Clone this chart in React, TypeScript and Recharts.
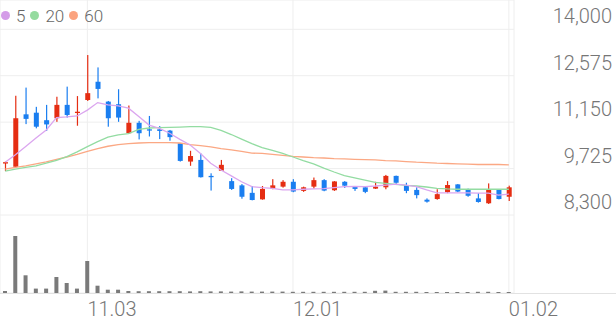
import { Bar, CartesianGrid, ComposedChart, Line, XAxis, YAxis } from 'recharts';

// trading days, 2022-10-24 .. 2023-01-02
const DATES = [
  '10.24', '10.25', '10.26', '10.27', '10.28', '10.31', '11.01', '11.02', '11.03', '11.04',
  '11.07', '11.08', '11.09', '11.10', '11.11', '11.14', '11.15', '11.16', '11.17', '11.18',
  '11.21', '11.22', '11.23', '11.24', '11.25', '11.28', '11.29', '11.30', '12.01', '12.02',
  '12.05', '12.06', '12.07', '12.08', '12.09', '12.12', '12.13', '12.14', '12.15', '12.16',
  '12.19', '12.20', '12.21', '12.22', '12.23', '12.26', '12.27', '12.28', '12.29', '01.02',
];

const OPEN = [
  9880, 9780, 11390, 11440, 11210, 11270, 11680, 11430, 11830, 12390,
  11780, 11700, 10810, 11130, 10930, 10930, 10890, 10500, 9940, 9990,
  9500, 9660, 9340, 9210, 8980, 8780, 9110, 9170, 9320, 9040,
  9170, 9370, 9060, 9320, 9170, 9150, 9110, 9150, 9500, 9220,
  9070, 8770, 8790, 9000, 9240, 9070, 8810, 8660, 9070, 8860,
];
const HIGH = [
  9940, 11960, 12210, 11620, 11680, 11930, 12240, 11950, 13210, 12830,
  11800, 12160, 11660, 11190, 11340, 11030, 10910, 10500, 10270, 10190,
  9580, 9990, 9430, 9250, 9190, 9190, 9400, 9370, 9400, 9170,
  9450, 9400, 9340, 9340, 9180, 9170, 9320, 9530, 9510, 9290,
  9150, 8810, 9090, 9340, 9250, 9110, 8970, 9270, 9080, 9200,
];
const LOW = [
  9650, 9750, 11090, 10960, 10880, 11160, 11290, 11040, 11800, 11880,
  11010, 11160, 10790, 10620, 10710, 10630, 10580, 9940, 9810, 9450,
  9050, 9650, 9070, 8800, 8750, 8770, 9090, 9140, 9000, 9010,
  9110, 9030, 9040, 9130, 9040, 8970, 9100, 9090, 9220, 8970,
  8810, 8680, 8770, 8970, 9000, 8860, 8680, 8640, 8780, 8730,
];
const CLOSE = [
  9920, 11270, 11250, 11010, 11080, 11680, 11370, 11470, 12040, 12170,
  11270, 11290, 11130, 10810, 10890, 10880, 10690, 9960, 10110, 9460,
  9460, 9840, 9100, 8860, 8760, 9100, 9210, 9320, 9020, 9150,
  9370, 9050, 9330, 9200, 9100, 9010, 9170, 9500, 9290, 9040,
  8910, 8710, 8940, 9220, 9020, 8890, 8700, 9090, 8790, 9150,
];

// thousand shares
const VOLUME = [
  20, 570, 177, 44, 44, 160, 100, 44, 320, 73,
  33, 33, 20, 18, 18, 18, 18, 18, 16, 18,
  16, 16, 14, 16, 14, 14, 14, 14, 12, 12,
  12, 12, 12, 12, 12, 12, 22, 24, 12, 12,
  12, 10, 10, 10, 10, 10, 12, 12, 10, 10,
];

const MA5 = [
  9920, 10150, 10400, 10660, 10910, 11290, 11310, 11340, 11520, 11750,
  11680, 11650, 11580, 11320, 11060, 10960, 10810, 10620, 10450, 10190,
  9890, 9680, 9500, 9320, 9170, 9140, 9120, 9070, 9070, 9090,
  9100, 9110, 9140, 9170, 9180, 9170, 9190, 9220, 9250, 9220,
  9170, 9070, 8980, 8980, 8980, 8980, 8970, 8970, 8910, 8940,
];
const MA20 = [
  9650, 9710, 9760, 9810, 9890, 9980, 10090, 10240, 10400, 10550,
  10690, 10760, 10800, 10930, 10970, 10980, 10990, 11000, 11010, 11010,
  10990, 10900, 10770, 10630, 10490, 10370, 10280, 10190, 10080, 9970,
  9870, 9740, 9620, 9510, 9440, 9370, 9300, 9270, 9240, 9210,
  9190, 9160, 9120, 9100, 9090, 9090, 9090, 9090, 9090, 9090,
];
const MA60 = [
  9710, 9760, 9810, 9870, 9930, 10010, 10080, 10160, 10250, 10340,
  10410, 10460, 10490, 10510, 10520, 10520, 10520, 10510, 10460, 10430,
  10390, 10340, 10300, 10250, 10200, 10190, 10160, 10130, 10100, 10080,
  10060, 10050, 10030, 10020, 10010, 10000, 9990, 9970, 9960, 9940,
  9920, 9910, 9890, 9880, 9870, 9860, 9850, 9850, 9850, 9840,
];

const PRICE_TICKS = [8300, 9725, 11150, 12575, 14000];
const DATE_TICKS = ['11.03', '12.01', '01.02'];

const MA_SERIES = [
  { key: 'ma5', name: '5', color: '#d49ce8', line: '#dba6ef' },
  { key: 'ma20', name: '20', color: '#95db9f', line: '#93dca2' },
  { key: 'ma60', name: '60', color: '#fba37f', line: '#fba884' },
];

const UP = '#e52d12';
const DOWN = '#1a7ef0';
const LABEL = '#767676';

const data = DATES.map((date, i) => ({
  date,
  open: OPEN[i],
  high: HIGH[i],
  low: LOW[i],
  close: CLOSE[i],
  volume: VOLUME[i],
  ma5: MA5[i],
  ma20: MA20[i],
  ma60: MA60[i],
}));

function Candle(props: any) {
  const { x, y, width, height, payload } = props;
  if (x == null || y == null) return null;
  const top = Math.min(y, y + height);
  const h = Math.abs(height);
  const { open, close, high, low } = payload;
  const k = high > low ? h / (high - low) : 0;
  const yOpen = top + (high - open) * k;
  const yClose = top + (high - close) * k;
  const color = close >= open ? UP : DOWN;
  const cx = x + width / 2;
  const bodyTop = Math.min(yOpen, yClose);
  const bodyH = Math.max(1.3, Math.abs(yOpen - yClose));
  return (
    <g>
      <rect x={cx - 0.6} y={top} width={1.2} height={Math.max(h, 1)} fill={color} />
      <rect x={x} y={bodyTop} width={width} height={bodyH} fill={color} />
    </g>
  );
}

function PriceTick(props: any) {
  const { y, payload } = props;
  return (
    <text x={612} y={y - 6} textAnchor="end" fontSize={20} fontWeight={300} fill={LABEL}>
      {payload.value.toLocaleString('en-US')}
    </text>
  );
}

function DateTick(props: any) {
  const { x, y, payload } = props;
  return (
    <text x={x} y={y + 15} textAnchor="start" fontSize={20} fontWeight={300} fill={LABEL}>
      {payload.value}
    </text>
  );
}

export default function App() {
  return (
    <div
      style={{
        position: 'fixed',
        left: 0,
        top: 0,
        width: 616,
        height: 321,
        background: '#fff',
        fontFamily: 'Roboto, sans-serif',
      }}
    >
      <ComposedChart width={616} height={321} data={data} margin={{ top: 0, right: 0, bottom: 0, left: 0 }}>
        <CartesianGrid stroke="#eeeeee" yAxisId="price" />
        <XAxis
          dataKey="date"
          ticks={DATE_TICKS}
          interval={0}
          height={28}
          axisLine={false}
          tickLine={false}
          tick={<DateTick />}
        />
        <XAxis xAxisId="vol" dataKey="date" hide />
        <YAxis
          yAxisId="price"
          orientation="right"
          width={102}
          domain={[5906, 14899]}
          allowDataOverflow
          ticks={PRICE_TICKS}
          axisLine={false}
          tickLine={false}
          tick={<PriceTick />}
        />
        <YAxis yAxisId="vol" hide domain={[0, 2930]} allowDataOverflow />
        <Bar
          xAxisId="vol"
          yAxisId="vol"
          dataKey="volume"
          fill="#7a7a7a"
          barSize={4}
          isAnimationActive={false}
        />
        {MA_SERIES.slice()
          .reverse()
          .map((s) => (
            <Line
              key={s.key}
              yAxisId="price"
              dataKey={s.key}
              name={s.name}
              type="linear"
              stroke={s.line}
              strokeWidth={1.3}
              dot={false}
              activeDot={false}
              isAnimationActive={false}
            />
          ))}
        <Bar
          yAxisId="price"
          dataKey={(d: any) => [d.low, d.high]}
          barSize={5}
          shape={<Candle />}
          isAnimationActive={false}
        />
      </ComposedChart>
      <div style={{ position: 'absolute', left: 0, top: 293, width: 616, height: 1, background: '#e2e2e2' }} />
      <div
        style={{
          position: 'absolute',
          left: 1,
          top: 6,
          height: 19,
          display: 'flex',
          alignItems: 'center',
          fontSize: 17,
          fontWeight: 300,
          color: '#666',
        }}
      >
        {MA_SERIES.map((s) => (
          <div key={s.key} style={{ display: 'flex', alignItems: 'center', marginRight: 5 }}>
            <span
              style={{ width: 9, height: 9, borderRadius: '50%', background: s.color, marginRight: 6 }}
            />
            <span>{s.name}</span>
          </div>
        ))}
      </div>
    </div>
  );
}
